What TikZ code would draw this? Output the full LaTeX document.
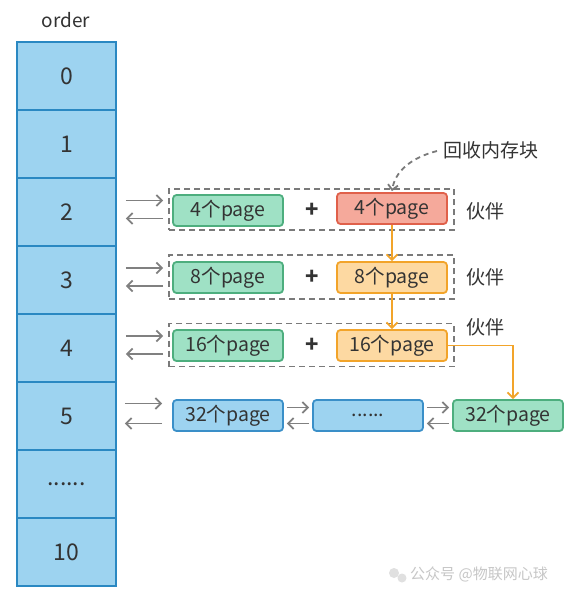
\documentclass[tikz,border=0pt]{standalone}
\usepackage{fontspec}
\setmainfont{Noto Sans CJK SC}
\usetikzlibrary{arrows.meta,calc}
\definecolor{txt}{HTML}{333333}
\definecolor{cellfill}{HTML}{9DD3F0}
\definecolor{celldraw}{HTML}{2A88C2}
\definecolor{grfill}{HTML}{9FE1C5}
\definecolor{grdraw}{HTML}{4DAE7E}
\definecolor{rdfill}{HTML}{F5A99B}
\definecolor{rddraw}{HTML}{E0604A}
\definecolor{orfill}{HTML}{FDD9A2}
\definecolor{ordraw}{HTML}{F2A42A}
\definecolor{bldraw}{HTML}{3A8FC8}
\definecolor{arrgray}{HTML}{808080}
\definecolor{dashgray}{HTML}{7A7A7A}
\begin{document}
\begin{tikzpicture}[x=1pt,y=-1pt,
  cell/.style={draw=celldraw,fill=cellfill,line width=1.8pt,minimum width=99pt,minimum height=68pt,inner sep=0pt,text=txt,font=\fontsize{23}{26}\selectfont},
  pg/.style={rounded corners=3.5pt,line width=1.8pt,minimum width=110pt,minimum height=31pt,inner sep=0pt,text=txt,font=\fontsize{19.5}{22}\selectfont},
  green/.style={pg,draw=grdraw,fill=grfill},
  red/.style={pg,draw=rddraw,fill=rdfill},
  orange/.style={pg,draw=ordraw,fill=orfill},
  blue/.style={pg,draw=bldraw,fill=cellfill},
  grp/.style={draw=dashgray,dash pattern=on 6pt off 4pt,line width=1.8pt,minimum width=285pt,inner sep=0pt},
  lbl/.style={text=txt,font=\fontsize{19}{22}\selectfont,inner sep=0pt},
  plus/.style={text=txt,font=\bfseries\fontsize{22}{24}\selectfont,inner sep=0pt},
  arr/.style={draw=arrgray,line width=1.8pt,-{Straight Barb[length=5.5pt,width=11pt]}},
  oarr/.style={draw=ordraw,line width=1.8pt,-{Straight Barb[length=5.5pt,width=11pt]}}
]
\useasboundingbox (0,0) rectangle (578,598);
\fill[white] (0,0) rectangle (578,598);

\node[text=txt,font=\fontsize{19}{22}\selectfont] (ord) at (66,20) {order};
\node[cell] (c0) at (66.5,76) {0};
\node[cell] (c1) at (66.5,144) {1};
\node[cell] (c2) at (66.5,212) {2};
\node[cell] (c3) at (66.5,280) {3};
\node[cell] (c4) at (66.5,348) {4};
\node[cell] (c5) at (66.5,416) {5};
\node[cell] (c6) at (66.5,484) {......};
\node[cell] (c7) at (66.5,552) {10};

% row 2
\node[grp,minimum height=41pt] (g2) at (311.5,209.5) {};
\node[green] (n2a) at (228,210.5) {4个page};
\node[red] (n2b) at (392,208.5) {4个page};
\node[plus] (p2) at (312,210) {+};
\node[lbl] (h2) at (485,211) {伙伴};
% row 3
\node[grp,minimum height=44pt] (g3) at (311.5,277) {};
\node[green] (n3a) at (228,277.5) {8个page};
\node[orange] (n3b) at (392,277.5) {8个page};
\node[plus] (p3) at (312,277) {+};
\node[lbl] (h3) at (485,277) {伙伴};
% row 4
\node[grp,minimum height=43pt] (g4) at (311.5,345) {};
\node[green] (n4a) at (228,345.5) {16个page};
\node[orange] (n4b) at (392,345.5) {16个page};
\node[plus] (p4) at (312,345) {+};
\node[lbl] (h4) at (485,327) {伙伴};
% row 5
\node[blue] (b51) at (228,415.5) {32个page};
\node[blue] (b52) at (368,415.5) {......};
\node[green] (b53) at (508,415.5) {32个page};

\node[lbl,anchor=west] (rec) at (443,150) {回收内存块};

% left arrows
\foreach \r in {2,3,4}{
  \draw[arr,shorten <=9pt,shorten >=5pt] ($(c\r.east|-g\r.west)+(0,-9)$) -- ($(g\r.west)+(0,-9)$);
  \draw[arr,shorten <=5pt,shorten >=9pt] ($(g\r.west)+(0,9)$) -- ($(c\r.east|-g\r.west)+(0,9)$);
}
\draw[arr,shorten <=8pt,shorten >=10pt] ($(c5.east|-b51.west)+(0,-12)$) -- ($(b51.west)+(0,-12)$);
\draw[arr,shorten <=10pt,shorten >=8pt] ($(b51.west)+(0,8)$) -- ($(c5.east|-b51.west)+(0,8)$);
\draw[arr,shorten <=3pt,shorten >=3pt] ($(b51.east)+(0,-8)$) -- ($(b52.west)+(0,-8)$);
\draw[arr,shorten <=3pt,shorten >=3pt] ($(b52.west)+(0,8)$) -- ($(b51.east)+(0,8)$);
\draw[arr,shorten <=3pt,shorten >=3pt] ($(b52.east)+(0,-8)$) -- ($(b53.west)+(0,-8)$);
\draw[arr,shorten <=3pt,shorten >=3pt] ($(b53.west)+(0,8)$) -- ($(b52.east)+(0,8)$);

% orange arrows
\draw[oarr] (n2b.south) -- (n3b.north);
\draw[oarr] (n3b.south) -- (n4b.north);
\draw[oarr] (n4b.east) -| ($(b53.north)+(5,0)$);

% dashed curved arrow
\draw[draw=dashgray,line width=1.8pt,dash pattern=on 5pt off 4pt,-{Straight Barb[length=5pt,width=10pt]}]
  ($(rec.west)+(-6,1)$) .. controls (410,158) and (395,172) .. ($(n2b.north)+(0,-1)$);

% watermark
\fill[black!12] (394,573) circle (5pt);
\fill[black!12] (402,578) circle (4.5pt);
\node[text=black!22,font=\fontsize{15}{17}\selectfont,anchor=west,inner sep=0pt] (wm) at (410,574) {公众号 @物联网心球};
\end{tikzpicture}
\end{document}
